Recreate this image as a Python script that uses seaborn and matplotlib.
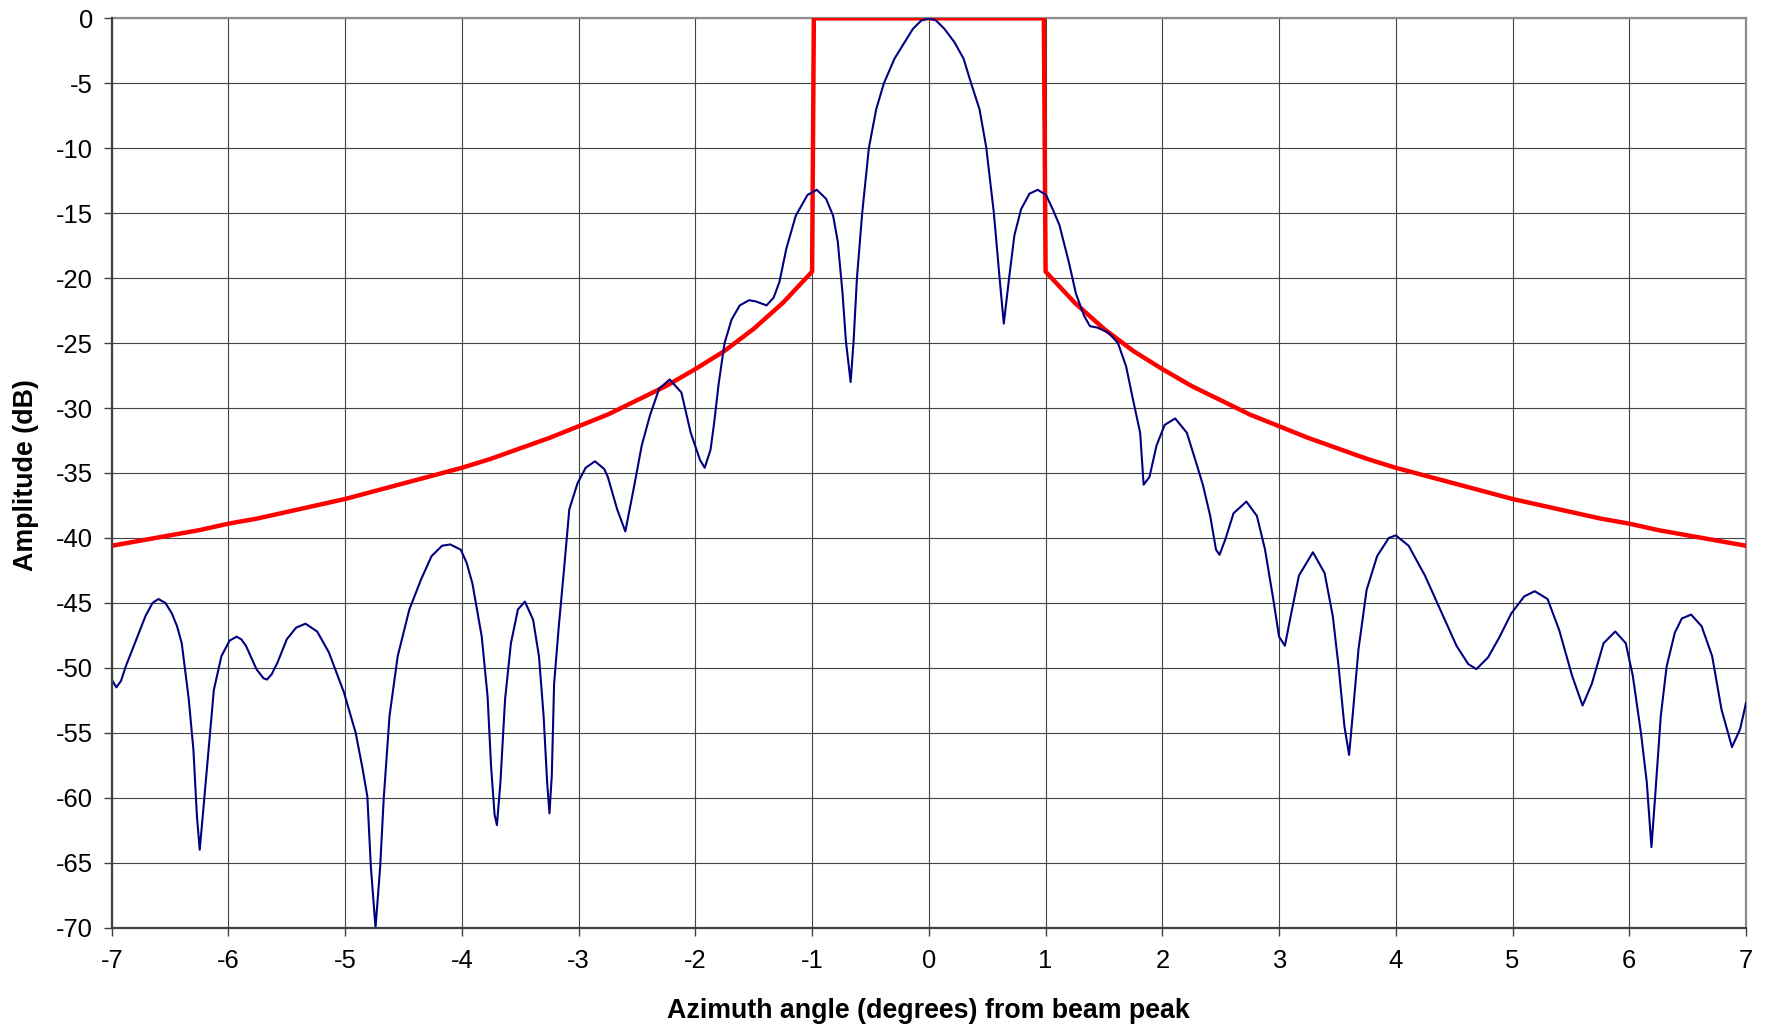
import matplotlib
matplotlib.use("Agg")
import matplotlib.pyplot as plt
import numpy as np
import pandas as pd
import seaborn as sns

# Measured azimuth pattern: angle from beam peak (deg) and amplitude (dB)
pattern_angle = [
    -7.00, -6.96, -6.92, -6.88, -6.78, -6.71, -6.65, -6.60, -6.54, -6.485,
    -6.44, -6.40, -6.34, -6.30, -6.27, -6.246, -6.22, -6.17, -6.125, -6.06,
    -5.99, -5.93, -5.89, -5.85, -5.76, -5.70, -5.67, -5.63, -5.58, -5.50,
    -5.42, -5.34, -5.24, -5.14, -5.01, -4.91, -4.85, -4.81, -4.78, -4.74,
    -4.70, -4.67, -4.62, -4.55, -4.45, -4.35, -4.26, -4.17, -4.10, -4.01,
    -3.96, -3.91, -3.83, -3.78, -3.75, -3.72, -3.70, -3.67, -3.63, -3.58,
    -3.52, -3.46, -3.39, -3.34, -3.30, -3.27, -3.25, -3.23, -3.21, -3.17,
    -3.12, -3.08, -3.01, -2.94, -2.86, -2.78, -2.75, -2.67, -2.60, -2.52,
    -2.46, -2.39, -2.31, -2.22, -2.12, -2.04, -1.96, -1.92, -1.87, -1.84,
    -1.80, -1.75, -1.69, -1.62, -1.54, -1.48, -1.39, -1.33, -1.28, -1.22,
    -1.14, -1.04, -0.96, -0.88, -0.82, -0.78, -0.74, -0.71, -0.67, -0.645,
    -0.616, -0.571, -0.514, -0.451, -0.385, -0.294, -0.208, -0.137, -0.066, 0.00,
    0.063, 0.134, 0.22, 0.297, 0.362, 0.434, 0.491, 0.556, 0.605, 0.642,
    0.69, 0.733, 0.79, 0.862, 0.933, 1.004, 1.061, 1.118, 1.20, 1.26,
    1.33, 1.38, 1.44, 1.54, 1.62, 1.69, 1.75, 1.81, 1.83, 1.84,
    1.89, 1.95, 2.02, 2.11, 2.21, 2.30, 2.35, 2.41, 2.46, 2.49,
    2.54, 2.61, 2.72, 2.81, 2.88, 2.95, 3.00, 3.05, 3.10, 3.17,
    3.29, 3.39, 3.46, 3.51, 3.56, 3.60, 3.63, 3.68, 3.75, 3.84,
    3.94, 4.00, 4.11, 4.25, 4.38, 4.52, 4.62, 4.69, 4.79, 4.89,
    4.99, 5.10, 5.19, 5.30, 5.40, 5.51, 5.60, 5.68, 5.78, 5.88,
    5.97, 6.03, 6.10, 6.15, 6.19, 6.22, 6.27, 6.32, 6.39, 6.45,
    6.53, 6.62, 6.71, 6.79, 6.88, 6.95, 7.00,
]
pattern_db = [
    -50.9, -51.5, -51.0, -49.9, -47.6, -46.0, -45.0, -44.7, -45.0, -45.8,
    -46.8, -48.1, -52.4, -56.3, -61.4, -64.0, -61.4, -56.3, -51.7, -49.1,
    -47.9, -47.6, -47.8, -48.3, -50.1, -50.8, -50.9, -50.5, -49.6, -47.8,
    -46.9, -46.6, -47.2, -48.8, -51.9, -55.0, -57.8, -59.9, -65.3, -70.0,
    -65.3, -60.1, -53.7, -49.1, -45.5, -43.2, -41.4, -40.6, -40.5, -40.9,
    -41.9, -43.5, -47.6, -52.2, -57.6, -61.3, -62.1, -58.8, -52.4, -48.1,
    -45.5, -44.9, -46.3, -49.1, -53.7, -58.8, -61.2, -58.3, -51.2, -46.8,
    -41.9, -37.8, -35.8, -34.6, -34.1, -34.7, -35.3, -37.8, -39.5, -35.8,
    -32.9, -30.6, -28.5, -27.8, -28.8, -31.9, -34.0, -34.6, -33.2, -31.2,
    -28.1, -25.0, -23.2, -22.1, -21.7, -21.8, -22.1, -21.5, -20.3, -17.7,
    -15.2, -13.6, -13.2, -13.9, -15.2, -17.2, -21.1, -24.9, -28.0, -24.9,
    -20.0, -15.0, -10.0, -7.0, -5.0, -3.1, -1.85, -0.82, -0.18, 0.0,
    -0.18, -0.82, -1.85, -3.1, -5.0, -7.0, -9.9, -14.9, -19.9, -23.5,
    -19.8, -16.7, -14.7, -13.5, -13.2, -13.6, -14.7, -15.9, -18.8, -21.2,
    -22.9, -23.7, -23.8, -24.2, -25.0, -26.8, -29.4, -31.9, -34.5, -35.9,
    -35.3, -32.9, -31.3, -30.8, -31.9, -34.5, -36.0, -38.3, -40.9, -41.3,
    -40.1, -38.1, -37.2, -38.3, -40.9, -44.7, -47.6, -48.3, -46.0, -42.9,
    -41.1, -42.7, -46.0, -49.9, -54.5, -56.7, -53.7, -48.6, -44.0, -41.4,
    -40.0, -39.8, -40.6, -42.9, -45.5, -48.3, -49.7, -50.1, -49.2, -47.6,
    -45.8, -44.5, -44.1, -44.7, -47.1, -50.6, -52.9, -51.2, -48.1, -47.2,
    -48.1, -50.6, -55.0, -58.8, -63.8, -60.1, -53.7, -49.9, -47.3, -46.2,
    -45.9, -46.8, -49.1, -53.2, -56.1, -54.7, -52.7,
]

# Sidelobe mask (one side, symmetric about boresight) and main-beam window
mask_angle = [1.0, 1.25, 1.5, 1.75, 2.0, 2.25, 2.5, 2.75, 3.0, 3.25, 3.5,
              3.75, 4.0, 4.25, 4.5, 4.75, 5.0, 5.25, 5.5, 5.75, 6.0, 6.25,
              6.5, 6.75, 7.0]
mask_db = [-19.5, -21.9, -23.9, -25.6, -27.0, -28.3, -29.4, -30.5, -31.4,
           -32.3, -33.1, -33.9, -34.6, -35.2, -35.8, -36.4, -37.0, -37.5,
           -38.0, -38.5, -38.9, -39.4, -39.8, -40.2, -40.6]
mask_top_angle = 0.985
mask_top_db = 0.0

x_ticks = list(range(-7, 8))
y_ticks = list(range(-70, 1, 5))

pattern = pd.DataFrame({"angle": pattern_angle, "db": pattern_db})
mask = pd.DataFrame({
    "angle": [-a for a in mask_angle[::-1]] + [-mask_top_angle, mask_top_angle] + mask_angle,
    "db": mask_db[::-1] + [mask_top_db, mask_top_db] + mask_db,
})

sns.set_style("white")
plt.rcParams["font.family"] = ["Liberation Sans", "DejaVu Sans"]
plt.rcParams["axes.unicode_minus"] = False

fig = plt.figure(figsize=(17.74, 10.31), dpi=100)
ax = fig.add_axes([0.06296, 0.10020, 0.92126, 0.88205])

sns.lineplot(data=mask, x="angle", y="db", sort=False, estimator=None,
             color="#ff0000", linewidth=3.2, ax=ax, zorder=3)
sns.lineplot(data=pattern, x="angle", y="db", sort=False, estimator=None,
             color="#000080", linewidth=1.5, ax=ax, zorder=4)

ax.set_xlim(-7, 7)
ax.set_ylim(-70, 0)
ax.set_xticks(x_ticks)
ax.set_yticks(y_ticks)
ax.set_xticklabels([str(t) for t in x_ticks])
ax.set_yticklabels([str(t) for t in y_ticks])

ax.grid(True, color="#444444", linewidth=0.8)
ax.set_axisbelow(True)

for side in ("top", "right"):
    ax.spines[side].set_color("#8c8c8c")
    ax.spines[side].set_linewidth(1.6)
for side in ("left", "bottom"):
    ax.spines[side].set_color("#404040")
    ax.spines[side].set_linewidth(1.6)
    ax.spines[side].set_zorder(5)

ax.tick_params(axis="both", which="major", direction="out", length=6,
               width=1.0, color="#404040", labelsize=18.4, labelcolor="black")
ax.tick_params(axis="y", pad=7.5)
ax.tick_params(axis="x", pad=9.5)
ax.tick_params(left=True, bottom=True)

ax.set_xlabel("Azimuth angle (degrees) from beam peak", fontsize=19.3,
              fontweight="bold", color="black")
ax.set_ylabel("Amplitude (dB)", fontsize=19.3, fontweight="bold",
              color="black")
ax.xaxis.set_label_coords(0.5, -0.077)
ax.yaxis.set_label_coords(-0.0445, 0.498)

fig.savefig("out.png", dpi=100, facecolor="white")
